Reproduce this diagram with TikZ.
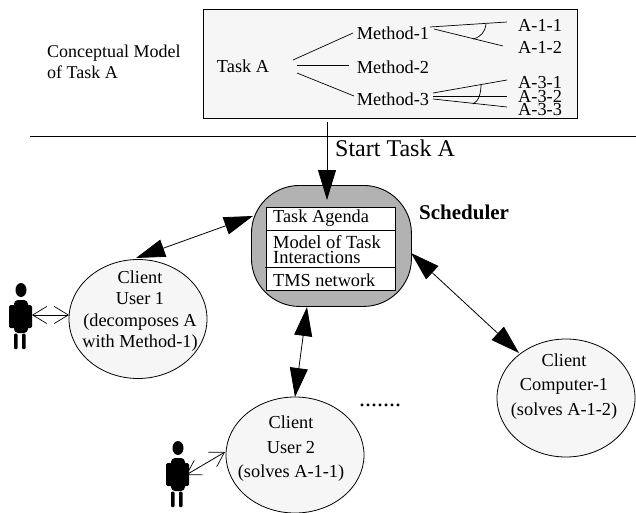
\documentclass[tikz,border=0pt]{standalone}
\usepackage{fontspec}
\setmainfont{Liberation Serif}
\usetikzlibrary{arrows.meta,shapes.geometric}
\definecolor{panel}{gray}{0.965}
\definecolor{schedgray}{gray}{0.70}
\tikzset{
 x=1pt,y=-1pt,
 every node/.style={font=\fontsize{18.3}{18}\selectfont,inner sep=0pt,align=center},
 lbl/.style={anchor=center},
 clientnode/.style={draw,ellipse,fill=panel,line width=0.8pt,inner sep=0pt},
 thin line/.style={line width=0.8pt},
 bigarrow/.style={line width=0.8pt,{Triangle[length=29pt,width=18pt]}-{Triangle[length=29pt,width=18pt]}},
 onearrow/.style={line width=0.8pt,-{Triangle[length=30pt,width=18pt]}},
 openarrow/.style={line width=0.8pt,{Straight Barb[length=14pt,width=17pt,line width=0.7pt]}-{Straight Barb[length=14pt,width=17pt,line width=0.7pt]}},
 branch/.style={line width=0.7pt},
 person/.style={fill=black,draw=none}
}
\newcommand{\personicon}[2]{%
 \begin{scope}[shift={(#1,#2)}]
  \fill[person] (0,-42) ellipse (5.5 and 7);
  \fill[person,rounded corners=4] (-7,-32) rectangle (7,1);
  \fill[person,rounded corners=1.5] (-12,-27) rectangle (-6,-4);
  \fill[person,rounded corners=1.5] (6,-27) rectangle (11,-4);
  \fill[person,rounded corners=1] (-7,1.5) rectangle (-3.5,17);
  \fill[person,rounded corners=1] (1,1.5) rectangle (4.5,17);
 \end{scope}}
\begin{document}
\begin{tikzpicture}
\useasboundingbox (0,0) rectangle (636,513);
% conceptual panel
\node[draw,fill=panel,line width=0.9pt,minimum width=374pt,minimum height=109pt,anchor=north west] (panel) at (203,9) {};
\node[lbl,anchor=west,align=left,font=\fontsize{18}{21}\selectfont] (cm) at (47,62) {Conceptual Model\\of Task A};
\node[lbl] (taska) at (243,66) {Task A};
\node[lbl] (m1) at (393,33) {Method-1};
\node[lbl] (m2) at (393,67) {Method-2};
\node[lbl] (m3) at (393,99) {Method-3};
\node[lbl,anchor=west] (a11) at (518,25) {A-1-1};
\node[lbl,anchor=west] (a12) at (518,47) {A-1-2};
\node[lbl,anchor=west] (a31) at (518,83) {A-3-1};
\node[lbl,anchor=west] (a32) at (518,97) {A-3-2};
\node[lbl,anchor=west] (a33) at (518,110) {A-3-3};
\coordinate (t1) at (293,60);
\coordinate (t2) at (297,66);
\coordinate (t3) at (297,73);
\coordinate (m1a) at (353,33);
\coordinate (m2a) at (349,66);
\coordinate (m3a) at (354,96);
\draw[branch] (t1) -- (m1a);
\draw[branch,line width=1pt] (t2) -- (m2a);
\draw[branch] (t3) -- (m3a);
\coordinate (b11) at (430,27);
\coordinate (e11) at (507,22);
\coordinate (b12) at (434,29);
\coordinate (e12) at (503,46);
\coordinate (b31) at (433,93);
\coordinate (e31) at (507,80);
\coordinate (b32) at (433,96);
\coordinate (e32) at (507,96);
\coordinate (b33) at (433,99);
\coordinate (e33) at (507,107);
\draw[branch] (b11) -- (e11);
\draw[branch] (b12) -- (e12);
\draw[branch] (b31) -- (e31);
\draw[branch] (b32) -- (e32);
\draw[branch] (b33) -- (e33);
\draw[branch] (486,24) .. controls (485,32) and (481,37) .. (473,39);
\draw[branch] (481,84) .. controls (481,93) and (479,101) .. (473,104);
% separator
\coordinate (sepl) at (30,136);
\coordinate (sepr) at (636,136);
\draw[thin line] (sepl) -- (sepr);
% scheduler
\node[draw,fill=schedgray,line width=0.9pt,rounded corners=48pt,minimum width=160pt,minimum height=121pt,anchor=north west] (sched) at (251,185) {};
\node[draw,fill=white,line width=0.9pt,minimum width=129pt,minimum height=83pt,anchor=north west] (inner) at (266,207) {};
\coordinate (il1) at (266,230);
\coordinate (ir1) at (395,230);
\coordinate (il2) at (265,267);
\coordinate (ir2) at (395,267);
\draw[thin line] (il1) -- (ir1);
\draw[thin line] (il2) -- (ir2);
\node[lbl,anchor=west] (ta) at (273,218) {Task Agenda};
\node[lbl,anchor=west,align=left,font=\fontsize{18.5}{15}\selectfont] (mti) at (273,249.5) {Model of Task\\Interactions};
\node[lbl,anchor=west] (tms) at (273,280) {TMS network};
\node[lbl,anchor=west,font=\fontsize{21}{21}\selectfont\bfseries] (schedlbl) at (419,212) {Scheduler};
% start arrow
\coordinate (startc) at (327,122);
\coordinate (starte) at (327,200);
\draw[onearrow] (startc) -- (starte);
\node[lbl,anchor=west,font=\fontsize{24}{24}\selectfont] (start) at (335,148) {Start Task A};
% clients
\node[clientnode,minimum width=138pt,minimum height=119pt] (u1) at (138,319) {};
\node[lbl,font=\fontsize{18.3}{21.5}\selectfont] (u1t) at (140,311) {Client\\User 1\\(decomposes A\\with Method-1)};
\node[clientnode,minimum width=138pt,minimum height=116pt] (u2) at (295,455) {};
\node[lbl,font=\fontsize{18.3}{24.5}\selectfont] (u2t) at (291,449) {Client\\User 2\\(solves A-1-1)};
\node[clientnode,minimum width=138pt,minimum height=118pt] (c1) at (566,398) {};
\node[lbl,font=\fontsize{18.3}{24.5}\selectfont] (c1t) at (564,386.5) {Client\\Computer-1\\(solves A-1-2)};
\node[anchor=base,font=\fontsize{24}{24}\selectfont] (dots) at (380,406) {.......};
% connectors
\coordinate (su1) at (253,216);
\coordinate (u1s) at (136,258);
\draw[bigarrow] (u1s) -- (su1);
\coordinate (su2) at (307,307);
\coordinate (u2s) at (295,397);
\draw[bigarrow] (u2s) -- (su2);
\coordinate (sc1) at (411,253);
\coordinate (c1s) at (519,353);
\draw[bigarrow] (c1s) -- (sc1);
% persons
\personicon{21}{332}
\coordinate (p1) at (32,315);
\coordinate (u1w) at (69,315);
\draw[openarrow] (p1) -- (u1w);
\personicon{178}{490}
\coordinate (p2) at (186,475);
\coordinate (u2w) at (225,452);
\draw[openarrow] (p2) -- (u2w);
\end{tikzpicture}
\end{document}
